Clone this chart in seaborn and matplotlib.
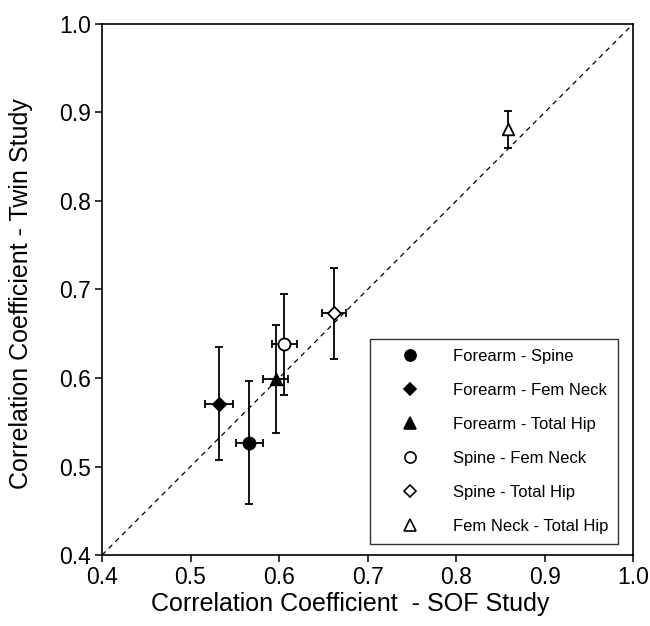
import matplotlib
matplotlib.use("Agg")
import matplotlib.pyplot as plt
from matplotlib.lines import Line2D
import seaborn as sns
import pandas as pd

# Correlations
pairs = ["Forearm - Spine", "Forearm - Fem Neck", "Forearm - Total Hip",
         "Spine - Fem Neck", "Spine - Total Hip", "Fem Neck - Total Hip"]
sof_r = [0.566, 0.532, 0.596, 0.606, 0.662, 0.859]
twin_r = [0.527, 0.571, 0.599, 0.638, 0.674, 0.881]
sof_lo = [0.551, 0.516, 0.582, 0.592, 0.649, 0.859]
sof_hi = [0.582, 0.548, 0.610, 0.620, 0.676, 0.859]
twin_lo = [0.458, 0.507, 0.538, 0.581, 0.622, 0.860]
twin_hi = [0.597, 0.635, 0.660, 0.695, 0.724, 0.902]

markers = ["o", "D", "^", "o", "D", "^"]
faces = ["black", "black", "black", "white", "white", "white"]

df = pd.DataFrame({"pair": pairs, "sof": sof_r, "twin": twin_r})

sns.set_style("ticks")
plt.rcParams["font.family"] = ["Liberation Sans", "DejaVu Sans"]
plt.rcParams["text.color"] = "black"
plt.rcParams["axes.labelcolor"] = "black"

fig = plt.figure(figsize=(6.5, 6.26), dpi=100)
ax = fig.add_axes([0.157, 0.1134, 0.817, 0.8483])

# identity line
ax.plot([0.4, 1.0], [0.4, 1.0], color="black", lw=0.9, ls=(0, (4, 3.5)), zorder=1)

for i in range(len(pairs)):
    ax.errorbar(sof_r[i], twin_r[i],
                xerr=[[sof_r[i] - sof_lo[i]], [sof_hi[i] - sof_r[i]]],
                yerr=[[twin_r[i] - twin_lo[i]], [twin_hi[i] - twin_r[i]]],
                fmt="none", ecolor="black", elinewidth=1.3, capsize=3,
                capthick=1.3, zorder=2)

sizes = {"o": 75, "D": 45, "^": 70}
for i, row in df.iterrows():
    sns.scatterplot(x=[row["sof"]], y=[row["twin"]], ax=ax, marker=markers[i],
                    s=sizes[markers[i]], color=faces[i], edgecolor="black",
                    linewidth=1.3, zorder=3, legend=False)

handles = [Line2D([], [], ls="none", marker=markers[i],
                  markersize=8 if markers[i] != "D" else 6,
                  markerfacecolor=faces[i], markeredgecolor="black",
                  markeredgewidth=1.2) for i in range(len(pairs))]
leg = ax.legend(handles, pairs, loc="lower right",
                bbox_to_anchor=(0.972, 0.0207), borderaxespad=0,
                frameon=True, fancybox=False, edgecolor="black",
                fontsize=12, labelspacing=1.14, handlelength=3.6,
                handletextpad=0.8, borderpad=0.6)
leg.get_frame().set_linewidth(1.0)

ax.set_xlim(0.4, 1.0)
ax.set_ylim(0.4, 1.0)
ticks = [0.4, 0.5, 0.6, 0.7, 0.8, 0.9, 1.0]
ax.set_xticks(ticks)
ax.set_yticks(ticks)
ax.set_xticklabels([f"{t:.1f}" for t in ticks])
ax.set_yticklabels([f"{t:.1f}" for t in ticks])
ax.tick_params(direction="out", length=5, width=1.1, labelsize=16.5,
               colors="black", pad=3)
for s in ax.spines.values():
    s.set_linewidth(1.2)
    s.set_color("black")

ax.set_xlabel("Correlation Coefficient  - SOF Study", fontsize=18, color="black")
ax.set_ylabel("Correlation Coefficient - Twin Study", fontsize=18, color="black")
ax.xaxis.set_label_coords(0.467, -0.069)
ax.yaxis.set_label_coords(-0.130, 0.492)

fig.savefig("out.png", dpi=100)
